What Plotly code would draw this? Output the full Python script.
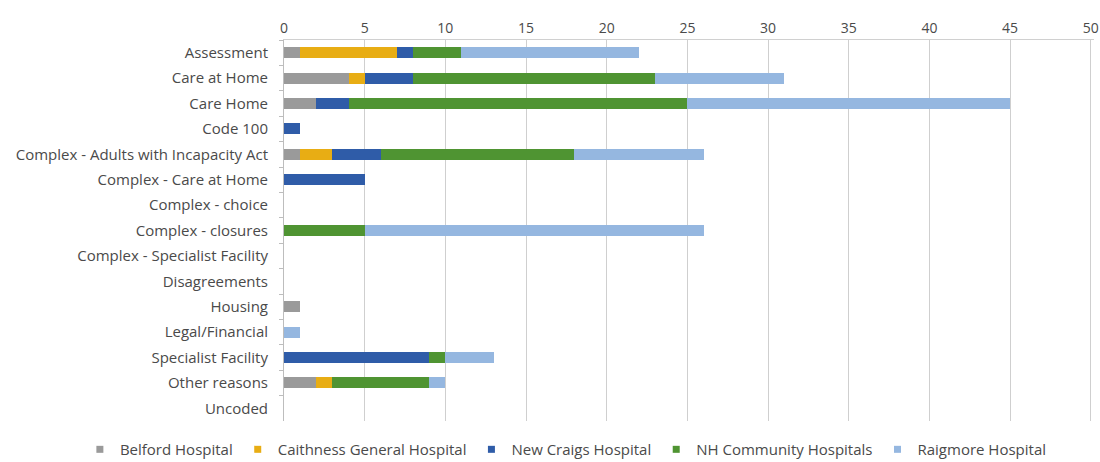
import plotly.graph_objects as go

# Delay reasons (rows) and the number of delayed discharges per hospital
reasons = [
    "Assessment",
    "Care at Home",
    "Care Home",
    "Code 100",
    "Complex - Adults with Incapacity Act",
    "Complex - Care at Home",
    "Complex - choice",
    "Complex - closures",
    "Complex - Specialist Facility",
    "Disagreements",
    "Housing",
    "Legal/Financial",
    "Specialist Facility",
    "Other reasons",
    "Uncoded",
]

belford = [1, 4, 2, 0, 1, 0, 0, 0, 0, 0, 1, 0, 0, 2, 0]
caithness = [6, 1, 0, 0, 2, 0, 0, 0, 0, 0, 0, 0, 0, 1, 0]
new_craigs = [1, 3, 2, 1, 3, 5, 0, 0, 0, 0, 0, 0, 9, 0, 0]
nh_community = [3, 15, 21, 0, 12, 0, 0, 5, 0, 0, 0, 0, 1, 6, 0]
raigmore = [11, 8, 20, 0, 8, 0, 0, 21, 0, 0, 0, 1, 3, 1, 0]

series = [
    ("Belford Hospital", belford, "#9a9a9a"),
    ("Caithness General Hospital", caithness, "#e8ad14"),
    ("New Craigs Hospital", new_craigs, "#2f5ca8"),
    ("NH Community Hospitals", nh_community, "#4f9432"),
    ("Raigmore Hospital", raigmore, "#95b7e0"),
]

x_ticks = list(range(0, 55, 5))

FONT = "Open Sans"
TEXT_COLOR = "#4a4a4a"
SIZE = 15

fig = go.Figure()
for name, values, color in series:
    fig.add_trace(
        go.Bar(
            y=reasons,
            x=values,
            orientation="h",
            name=name,
            marker=dict(color=color, line=dict(width=0)),
            showlegend=False,
        )
    )
    # small square legend keys
    fig.add_trace(
        go.Scatter(
            x=[None],
            y=[None],
            mode="markers",
            name=name,
            marker=dict(symbol="square", size=7, color=color),
            showlegend=True,
        )
    )

fig.update_layout(
    barmode="stack",
    bargap=0.57,
    width=1100,
    height=462,
    margin=dict(l=284, r=6, t=40, b=41, autoexpand=False),
    paper_bgcolor="white",
    plot_bgcolor="white",
    font=dict(family=FONT, size=SIZE, color=TEXT_COLOR),
    legend=dict(
        orientation="h",
        traceorder="normal",
        xref="paper",
        yref="paper",
        x=-0.252,
        xanchor="left",
        y=-0.075,
        yanchor="middle",
        font=dict(family=FONT, size=SIZE, color=TEXT_COLOR),
        itemwidth=30,
        bgcolor="rgba(0,0,0,0)",
    ),
    xaxis=dict(
        side="top",
        range=[0, 50.2],
        tickvals=x_ticks,
        ticktext=[str(v) for v in x_ticks],
        ticklabeloverflow="allow",
        showgrid=True,
        gridcolor="#cfcfcf",
        gridwidth=1,
        zeroline=False,
        showline=True,
        linecolor="#d0d0d0",
        linewidth=1,
        ticks="",
        tickfont=dict(family=FONT, size=SIZE - 1, color=TEXT_COLOR),
        fixedrange=True,
    ),
    yaxis=dict(
        type="category",
        categoryorder="array",
        categoryarray=reasons,
        autorange="reversed",
        showgrid=False,
        zeroline=False,
        showline=True,
        linecolor="#bdbdbd",
        linewidth=1,
        ticks="outside",
        tickson="boundaries",
        ticklen=4,
        tickcolor="#bdbdbd",
        ticklabelstandoff=12,
        tickfont=dict(family=FONT, size=SIZE, color=TEXT_COLOR),
        fixedrange=True,
    ),
)

fig.write_html("out.html")
